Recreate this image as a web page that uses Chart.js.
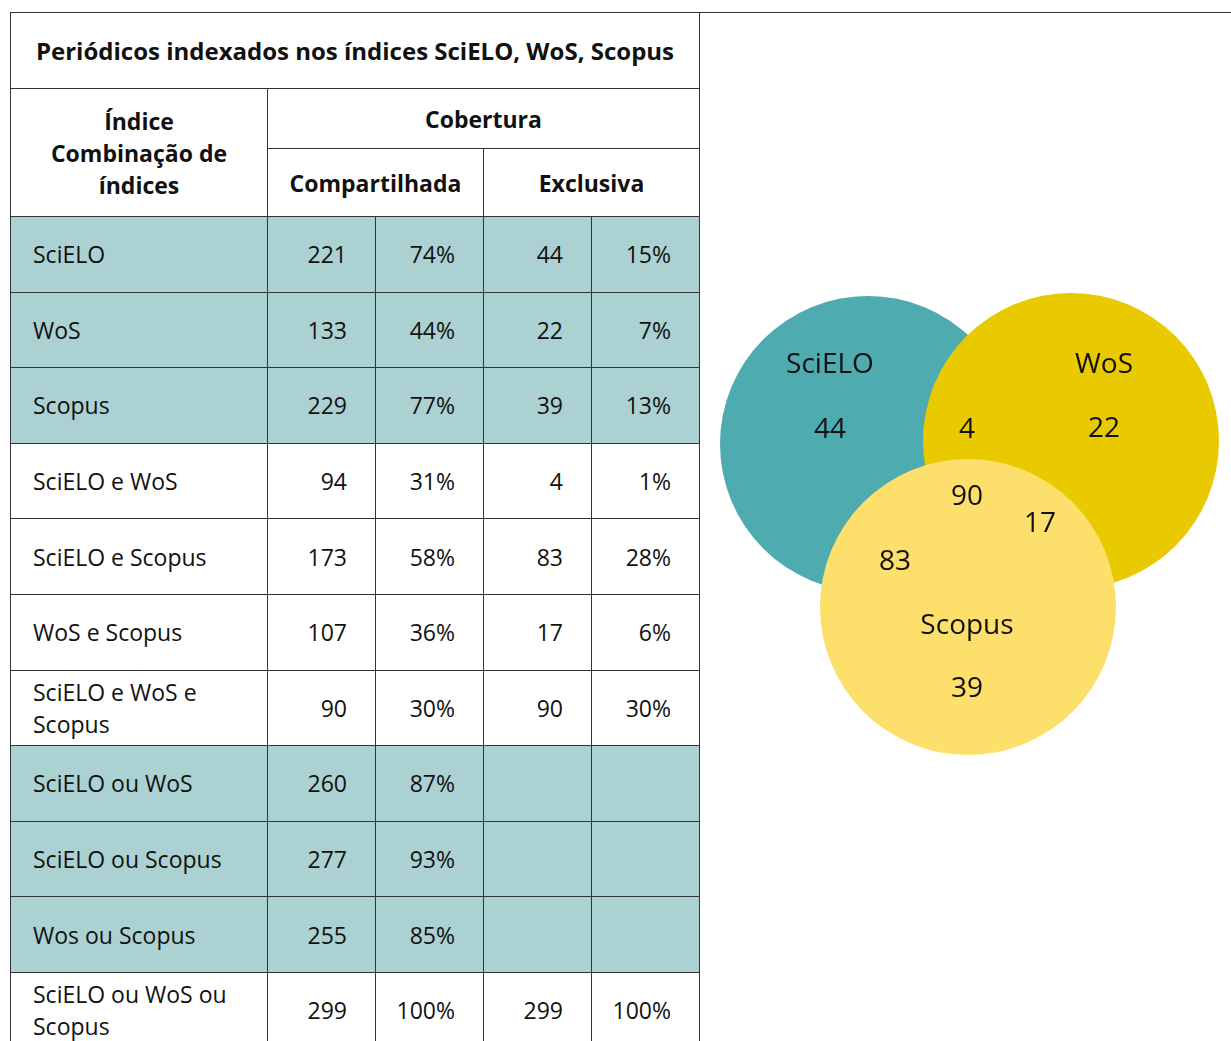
<!DOCTYPE html>
<html>
<head>
<meta charset="utf-8">
<script src="https://cdn.jsdelivr.net/npm/chart.js@4.4.1/dist/chart.umd.min.js"></script>
<style>
  body { margin: 0; width: 1231px; height: 1041px; overflow: hidden; background: #fff; position: relative;
         font-family: "Open Sans", sans-serif; color: #111; }
  #topline { position: absolute; left: 10px; top: 12px; width: 1221px; height: 1px; background: #333; }
  table { position: absolute; left: 10px; top: 12px; border-collapse: collapse; table-layout: fixed; }
  td, th { border: 1px solid #333; padding: 0; font-size: 23px; font-weight: normal; }
  th { font-weight: bold; text-align: center; line-height: 32px; }
  th#title { font-size: 24px; }
  td.lbl { text-align: left; padding-left: 22px; line-height: 32px; white-space: pre-line; }
  td.num { text-align: right; padding-right: 28px; }
  tr.shade td { background: #abd1d2; }
  tr.body { height: 75.6px; }
  #venn { position: absolute; left: 700px; top: 280px; }
</style>
</head>
<body>
<div id="topline"></div>
<table id="tab">
  <colgroup><col style="width:257px"><col style="width:108px"><col style="width:108px"><col style="width:108px"><col style="width:108px"></colgroup>
  <tr style="height:76px"><th colspan="5" id="title"></th></tr>
  <tr style="height:60px"><th rowspan="2">Índice<br>Combinação de<br>índices</th><th colspan="4">Cobertura</th></tr>
  <tr style="height:68px"><th colspan="2">Compartilhada</th><th colspan="2">Exclusiva</th></tr>
</table>
<canvas id="venn" width="531" height="500"></canvas>
<script>
const title = 'Periódicos indexados nos índices SciELO, WoS, Scopus';
const indices = ['SciELO', 'WoS', 'Scopus', 'SciELO e WoS', 'SciELO e Scopus', 'WoS e Scopus',
  'SciELO e WoS e\nScopus', 'SciELO ou WoS', 'SciELO ou Scopus', 'Wos ou Scopus', 'SciELO ou WoS ou\nScopus'];
const compartN = [221, 133, 229, 94, 173, 107, 90, 260, 277, 255, 299];
const compartPct = ['74%', '44%', '77%', '31%', '58%', '36%', '30%', '87%', '93%', '85%', '100%'];
const exclN = [44, 22, 39, 4, 83, 17, 90, null, null, null, 299];
const exclPct = ['15%', '7%', '13%', '1%', '28%', '6%', '30%', '', '', '', '100%'];
const shaded = [true, true, true, false, false, false, false, true, true, true, false];

document.getElementById('title').textContent = title;
const tab = document.getElementById('tab');
indices.forEach((name, i) => {
  const tr = document.createElement('tr');
  tr.className = 'body' + (shaded[i] ? ' shade' : '');
  const cells = [name, compartN[i], compartPct[i], exclN[i] == null ? '' : exclN[i], exclPct[i]];
  cells.forEach((v, j) => {
    const td = document.createElement('td');
    td.className = j === 0 ? 'lbl' : 'num';
    td.textContent = v;
    tr.appendChild(td);
  });
  tab.appendChild(tr);
});

// Venn: sets and the exclusive region counts (taken from exclN)
const vennSets = ['SciELO', 'WoS', 'Scopus'];
const vennColors = ['#4eabb0', '#e9c900', '#fddf6b'];
// layout of the circles (canvas units, 1 unit = 1px)
const vennCx = [168, 371, 268];
const vennCy = [164, 161, 327];
const vennR = 148;
// where set names and region counts go
const setLabelX = [130, 404, 267];
const setLabelY = [85, 85, 346];
const regionIdx = [0, 1, 2, 3, 4, 5, 6]; // rows of exclN: 44, 22, 39, 4, 83, 17, 90
const regionX = [130, 404, 267, 267, 195, 340, 267];
const regionY = [150, 149, 409, 150, 282, 244, 217];

const vennText = {
  id: 'vennText',
  afterDatasetsDraw(chart) {
    const { ctx, scales: { x, y } } = chart;
    ctx.save();
    ctx.fillStyle = '#111';
    ctx.font = '28px "Open Sans"';
    ctx.textAlign = 'center';
    ctx.textBaseline = 'middle';
    vennSets.forEach((s, i) => ctx.fillText(s, x.getPixelForValue(setLabelX[i]), y.getPixelForValue(setLabelY[i])));
    regionIdx.forEach((r, i) => ctx.fillText(String(exclN[r]), x.getPixelForValue(regionX[i]), y.getPixelForValue(regionY[i])));
    ctx.restore();
  }
};

new Chart(document.getElementById('venn'), {
  type: 'bubble',
  data: {
    datasets: [{
      data: vennSets.map((s, i) => ({ x: vennCx[i], y: vennCy[i], r: vennR })),
      backgroundColor: vennColors,
      borderWidth: 0,
      clip: false
    }]
  },
  options: {
    responsive: false,
    animation: false,
    events: [],
    layout: { padding: 0, autoPadding: false },
    plugins: { legend: { display: false }, tooltip: { enabled: false } },
    scales: {
      x: { type: 'linear', min: 0, max: 531, display: false },
      y: { type: 'linear', min: 0, max: 500, reverse: true, display: false }
    }
  },
  plugins: [vennText]
});
</script>
</body>
</html>
